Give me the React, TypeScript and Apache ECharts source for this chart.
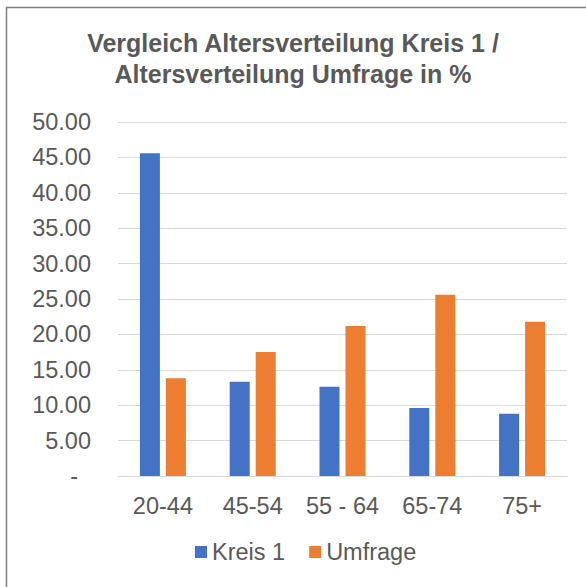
import React, { useEffect, useRef } from "react";
import * as echarts from "echarts";

const categories = ["20-44", "45-54", "55 - 64", "65-74", "75+"];
const kreis1 = [45.6, 13.3, 12.6, 9.6, 8.8];
const umfrage = [13.8, 17.5, 21.2, 25.6, 21.8];
const seriesNames = ["Kreis 1", "Umfrage"];
const titleText = "Vergleich Altersverteilung Kreis 1 /\nAltersverteilung Umfrage in %";

export default function App() {
  const ref = useRef<HTMLDivElement>(null);
  useEffect(() => {
    if (!ref.current) return;
    const chart = echarts.init(ref.current, undefined, { renderer: "svg" });
    const font = "'Liberation Sans', Arial, sans-serif";
    chart.setOption({
      animation: false,
      backgroundColor: "#ffffff",
      textStyle: { fontFamily: font },
      title: {
        text: titleText,
        left: "center",
        top: 27,
        padding: 0,
        textStyle: {
          fontFamily: font,
          fontSize: 25,
          fontWeight: "bold",
          color: "#595959",
          lineHeight: 31,
          align: "center",
        },
      },
      grid: { left: 118, right: 19, top: 122, bottom: 111, containLabel: false },
      legend: {
        data: seriesNames,
        left: 195,
        top: 540,
        padding: 0,
        itemWidth: 12,
        itemHeight: 12,
        itemGap: 24,
        icon: "rect",
        textStyle: { fontFamily: font, fontSize: 23.5, color: "#595959", padding: [0, 0, 0, 0] },
      },
      xAxis: {
        type: "category",
        data: categories,
        axisTick: { show: false },
        axisLine: { lineStyle: { color: "#d9d9d9", width: 1 } },
        axisLabel: {
          fontFamily: font,
          fontSize: 23.5,
          color: "#595959",
          margin: 18,
          interval: 0,
        },
      },
      yAxis: {
        type: "value",
        min: 0,
        max: 50,
        interval: 5,
        axisLine: { show: false },
        axisTick: { show: false },
        splitLine: { lineStyle: { color: "#d9d9d9", width: 1 } },
        axisLabel: {
          fontFamily: font,
          fontSize: 23.5,
          color: "#595959",
          margin: 27,
          formatter: (v: number) => (v === 0 ? "{d|-}" : v.toFixed(2)),
          rich: {
            d: { fontFamily: font, fontSize: 23.5, color: "#595959", padding: [0, 13, 0, 0] },
          },
        },
      },
      series: [
        {
          name: seriesNames[0],
          type: "bar",
          data: kreis1,
          barWidth: 20,
          barGap: "30%",
          itemStyle: { color: "#4472C4" },
        },
        {
          name: seriesNames[1],
          type: "bar",
          data: umfrage,
          barWidth: 20,
          itemStyle: { color: "#ED7D31" },
        },
      ],
      graphic: [
        {
          type: "line",
          shape: { x1: 6.5, y1: 7, x2: 6.5, y2: 587 },
          style: { stroke: "#7f7f7f", lineWidth: 1.5 },
        },
        {
          type: "line",
          shape: { x1: 6, y1: 7.5, x2: 586, y2: 7.5 },
          style: { stroke: "#7f7f7f", lineWidth: 1.5 },
        },
      ],
    });
    return () => chart.dispose();
  }, []);
  return (
    <div
      ref={ref}
      style={{ position: "fixed", left: 0, top: 0, width: 586, height: 587 }}
    />
  );
}
